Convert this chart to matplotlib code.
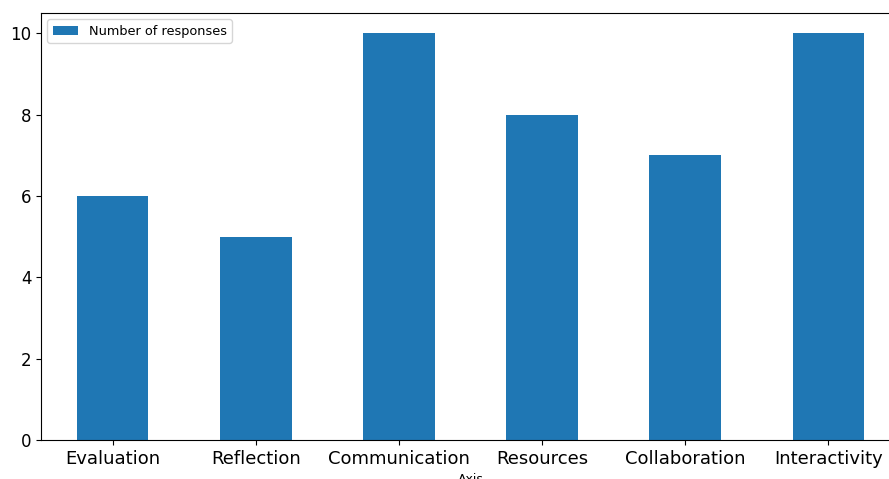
import matplotlib
matplotlib.use("Agg")
import matplotlib.pyplot as plt
import pandas as pd

# survey categories and counts
categories = ["Evaluation", "Reflection", "Communication", "Resources", "Collaboration", "Interactivity"]
responses = [6, 5, 10, 8, 7, 10]

df = pd.DataFrame({"Axis": categories, "Number of responses": responses})

fig = plt.figure(figsize=(8.89, 4.79), dpi=100)
# axes runs past the right edge, like the cropped original
ax = fig.add_axes([41 / 889, 1 - 440 / 479, 859 / 889, 427 / 479])
df.plot(x="Axis", y="Number of responses", kind="bar", ax=ax, color="#1f77b4", rot=0)

ax.tick_params(axis="x", labelsize=13)
ax.tick_params(axis="y", labelsize=12)
ax.set_xlabel("Axis", fontsize=9)
ax.legend(loc="upper left", fontsize=9.3)

fig.savefig("out.png", dpi=100)
